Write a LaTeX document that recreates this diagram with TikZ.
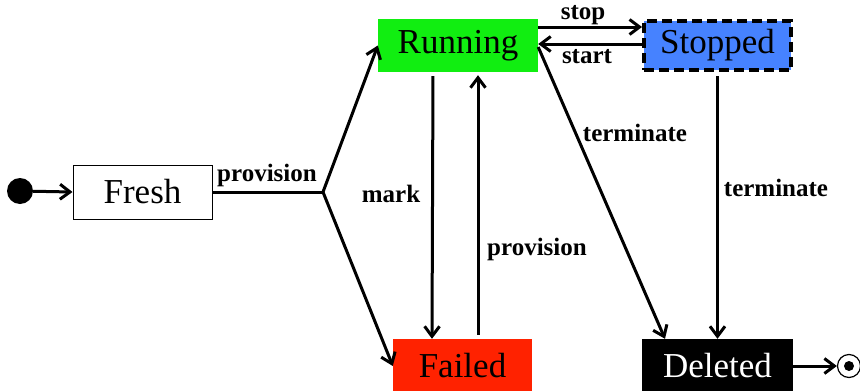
\documentclass[tikz,border=0pt]{standalone}
\usepackage{fontspec}
\setmainfont{Liberation Serif}
\usetikzlibrary{arrows.meta}
\definecolor{rungreen}{HTML}{11EE11}
\definecolor{stopblue}{HTML}{4682FF}
\definecolor{failred}{HTML}{FF2200}
\begin{document}
\begin{tikzpicture}[x=1pt,y=-1pt,
  state/.style={rectangle,inner sep=0pt,font=\fontsize{35}{41}\selectfont},
  lbl/.style={inner sep=0pt,font=\fontsize{25}{29}\selectfont\bfseries},
  flow/.style={line width=3pt,-{Straight Barb[length=10pt,width=15pt,line width=3pt]}},
  plain/.style={line width=3pt}]
\useasboundingbox (0,0) rectangle (860,391);

% states
\node[state,draw=black,line width=1pt,minimum width=139pt,minimum height=54pt] (fresh) at (142.5,192) {Fresh};
\node[state,fill=rungreen,minimum width=160pt,minimum height=53pt] (running) at (458,45.5) {Running};
\node[state,fill=stopblue,draw=black,line width=4pt,dash pattern=on 10pt off 5pt,minimum width=147pt,minimum height=49pt] (stopped) at (717.5,45.5) {Stopped};
\node[state,fill=failred,minimum width=139pt,minimum height=54pt] (failed) at (462.5,366) {Failed};
\node[state,fill=black,text=white,minimum width=151pt,minimum height=54pt] (deleted) at (717.5,366) {Deleted};

% pseudo states
\node[circle,fill=black,minimum size=26pt,inner sep=0pt] (init) at (20,191) {};
\node[circle,draw=black,line width=1.2pt,minimum size=23pt,inner sep=0pt] (final) at (849,366) {};
\node[circle,fill=black,minimum size=10pt,inner sep=0pt] (finaldot) at (849,366) {};

% fork point after provisioning
\coordinate (fork) at (323,192);

% transitions
\draw[flow] (init) -- (fresh.west);
\draw[plain] (fresh.east) -- (fork);
\draw[flow] (fork) -- (running.west);
\draw[flow] (fork) -- (failed.west);
\draw[flow] ([yshift=18.5pt]running.east) -- ([yshift=18.5pt]stopped.west);
\draw[flow] ([yshift=1.5pt]stopped.west) -- ([yshift=1.5pt]running.east);
\draw[flow,shorten <=4pt] ([xshift=-25pt]running.south) -- ([xshift=-30.5pt]failed.north);
\draw[flow,shorten <=4pt,shorten >=3pt] ([xshift=15.5pt]failed.north) -- ([xshift=20pt]running.south);
\draw[flow] ([yshift=-1.5pt]running.east) -- ([xshift=-52.5pt]deleted.north);
\draw[flow,shorten <=4pt] (stopped.south) -- (deleted.north);
\draw[flow] (deleted.east) -- (final.west);

% transition labels
\node[lbl] (lprov) at (267,175) {provision};
\node[lbl] (lstop) at (583,15) {stop};
\node[lbl] (lstart) at (587,57) {start};
\node[lbl] (lmark) at (391,194) {mark};
\node[lbl] (lprov2) at (537,249) {provision};
\node[lbl] (lterm1) at (635,133) {terminate};
\node[lbl] (lterm2) at (776,188) {terminate};
\end{tikzpicture}
\end{document}
